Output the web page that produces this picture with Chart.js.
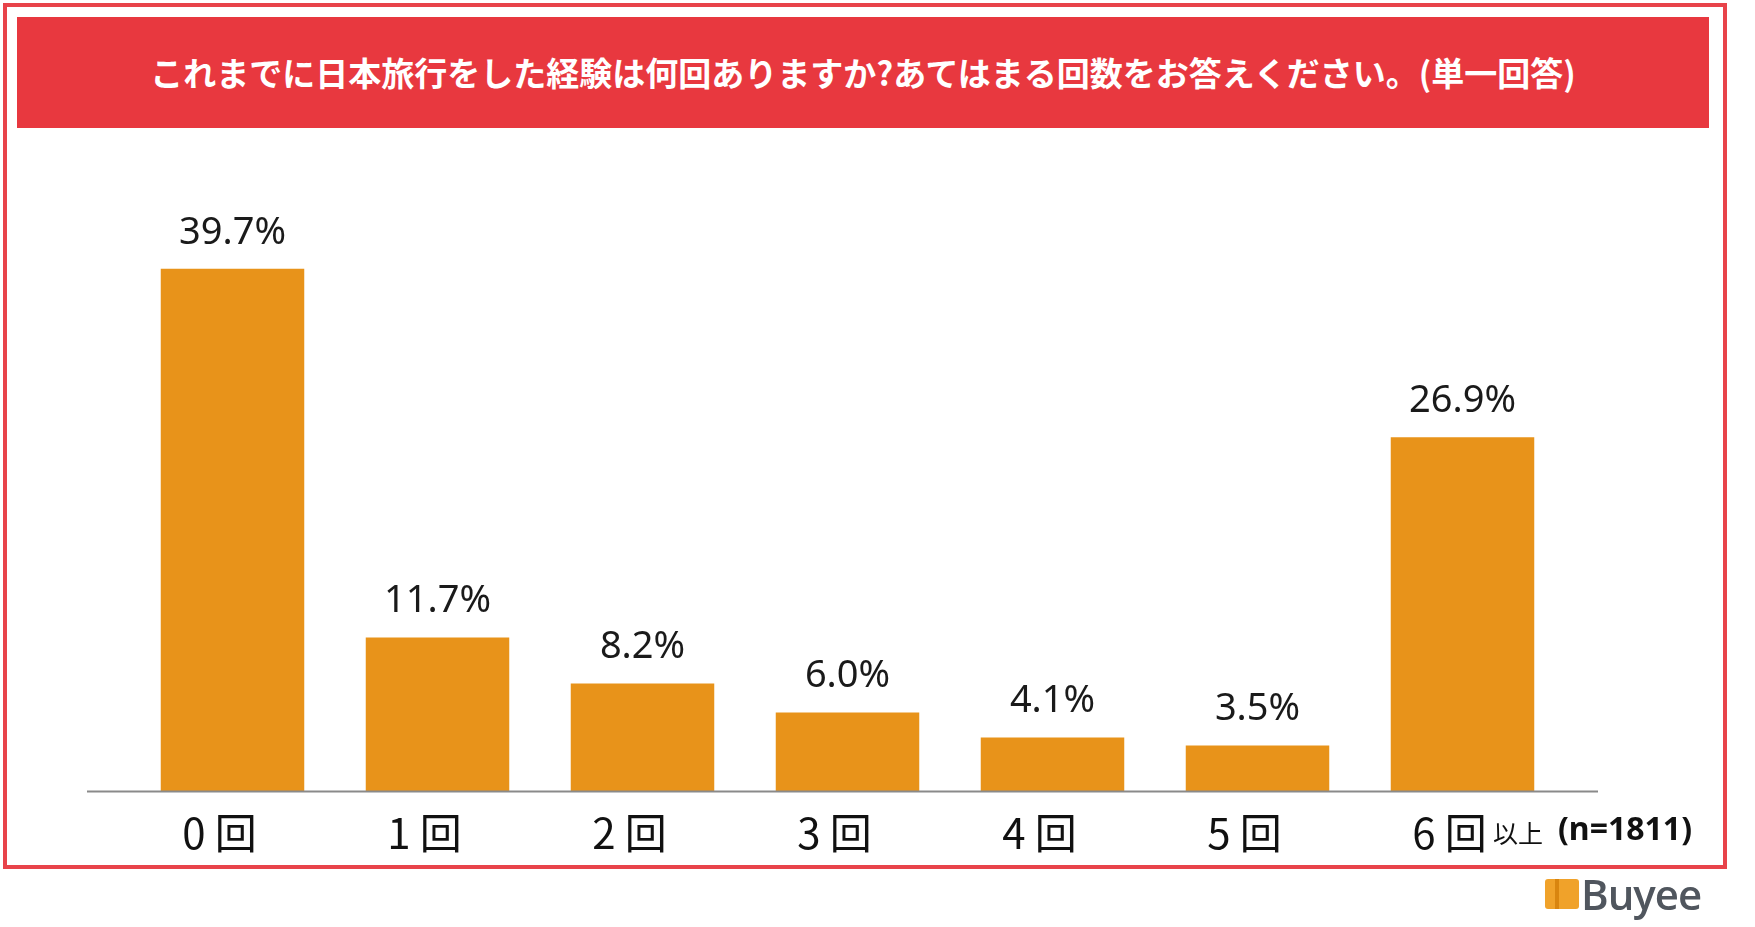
<!DOCTYPE html>
<html>
<head>
<meta charset="utf-8">
<script src="https://cdn.jsdelivr.net/npm/chart.js@4"></script>
<style>
  body { margin: 0; width: 1755px; height: 927px; background: #fff; overflow: hidden; position: relative; font-family: "Noto Sans CJK JP", "Noto Sans", sans-serif; }
  #frame { position: absolute; left: 3px; top: 3px; width: 1716px; height: 858px; border: 4px solid #e8434a; }
  #title { position: absolute; left: 17px; top: 17px; width: 1692px; height: 111px; background: #e8383f; color: #fff; font-weight: bold; font-size: 33px; line-height: 111px; text-align: center; }
  #myChart { position: absolute; left: 0; top: 0; }
  #ijou { position: absolute; left: 1493px; top: 814px; font-size: 25px; color: #111; }
  #nval { position: absolute; left: 1558px; top: 806px; font-size: 32px; font-weight: bold; color: #111; font-family: "Noto Sans", sans-serif; }
  #logo { position: absolute; left: 1545px; top: 872px; height: 44px; display: flex; align-items: center; }
  #logo .icon { width: 34px; height: 30px; background: linear-gradient(90deg, #f0a22a 0 30%, #d9850f 30% 40%, #f0a22a 40% 100%); border-radius: 3px; margin-right: 2px; }
  #logo .txt { font-family: "Open Sans", sans-serif; font-weight: 600; font-size: 42px; color: #50565e; letter-spacing: -1px; line-height: 44px; }
</style>
</head>
<body>
<div id="frame"></div>
<div id="title">これまでに日本旅行をした経験は何回ありますか?あてはまる回数をお答えください。(単一回答)</div>
<canvas id="myChart" width="1755" height="927"></canvas>
<span id="ijou">以上</span>
<span id="nval">(n=1811)</span>
<div id="logo"><div class="icon"></div><span class="txt">Buyee</span></div>
<script>
const categorias = ["0 回", "1 回", "2 回", "3 回", "4 回", "5 回", "6 回"];
const porcentagens = [39.7, 11.7, 8.2, 6.0, 4.1, 3.5, 26.9];

const ctx = document.getElementById("myChart");

// rótulos de valor acima das barras
const rotulosPlugin = {
  id: "rotulos",
  afterDatasetsDraw(chart) {
    const c = chart.ctx;
    const meta = chart.getDatasetMeta(0);
    c.save();
    c.font = "38px 'Noto Sans'";
    c.fillStyle = "#1a1a1a";
    c.textAlign = "center";
    c.textBaseline = "middle";
    meta.data.forEach((bar, i) => {
      c.fillText(porcentagens[i].toFixed(1) + "%", bar.x, bar.y - 36);
    });
    c.restore();
  },
};

// linha de base mais larga que a área do gráfico
const baseLinePlugin = {
  id: "baseLine",
  afterDatasetsDraw(chart) {
    const c = chart.ctx;
    const y = chart.scales.y.getPixelForValue(0);
    c.save();
    c.strokeStyle = "#8a8a8a";
    c.lineWidth = 2;
    c.beginPath();
    c.moveTo(chart.chartArea.left - 43, y);
    c.lineTo(chart.chartArea.right + 33, y);
    c.stroke();
    c.restore();
  },
};

const chart = new Chart(ctx, {
  type: "bar",
  data: {
    labels: categorias,
    datasets: [
      {
        data: porcentagens,
        backgroundColor: "#e8931a",
        borderWidth: 0,
        barPercentage: 0.7,
        categoryPercentage: 1,
      },
    ],
  },
  options: {
    responsive: false,
    animation: false,
    layout: {
      padding: { left: 130, right: 190, top: 199, bottom: 53 },
    },
    scales: {
      y: {
        display: false,
        min: 0,
        max: 45,
      },
      x: {
        grid: { display: false, drawTicks: false },
        border: { display: false },
        ticks: {
          color: "#111",
          padding: 16,
          labelOffset: -13,
          maxRotation: 0,
          autoSkip: false,
          font: { family: "'Noto Sans CJK JP'", size: 42 },
        },
      },
    },
    plugins: {
      legend: { display: false },
      tooltip: { enabled: false },
    },
  },
  plugins: [rotulosPlugin, baseLinePlugin],
});
</script>
</body>
</html>
